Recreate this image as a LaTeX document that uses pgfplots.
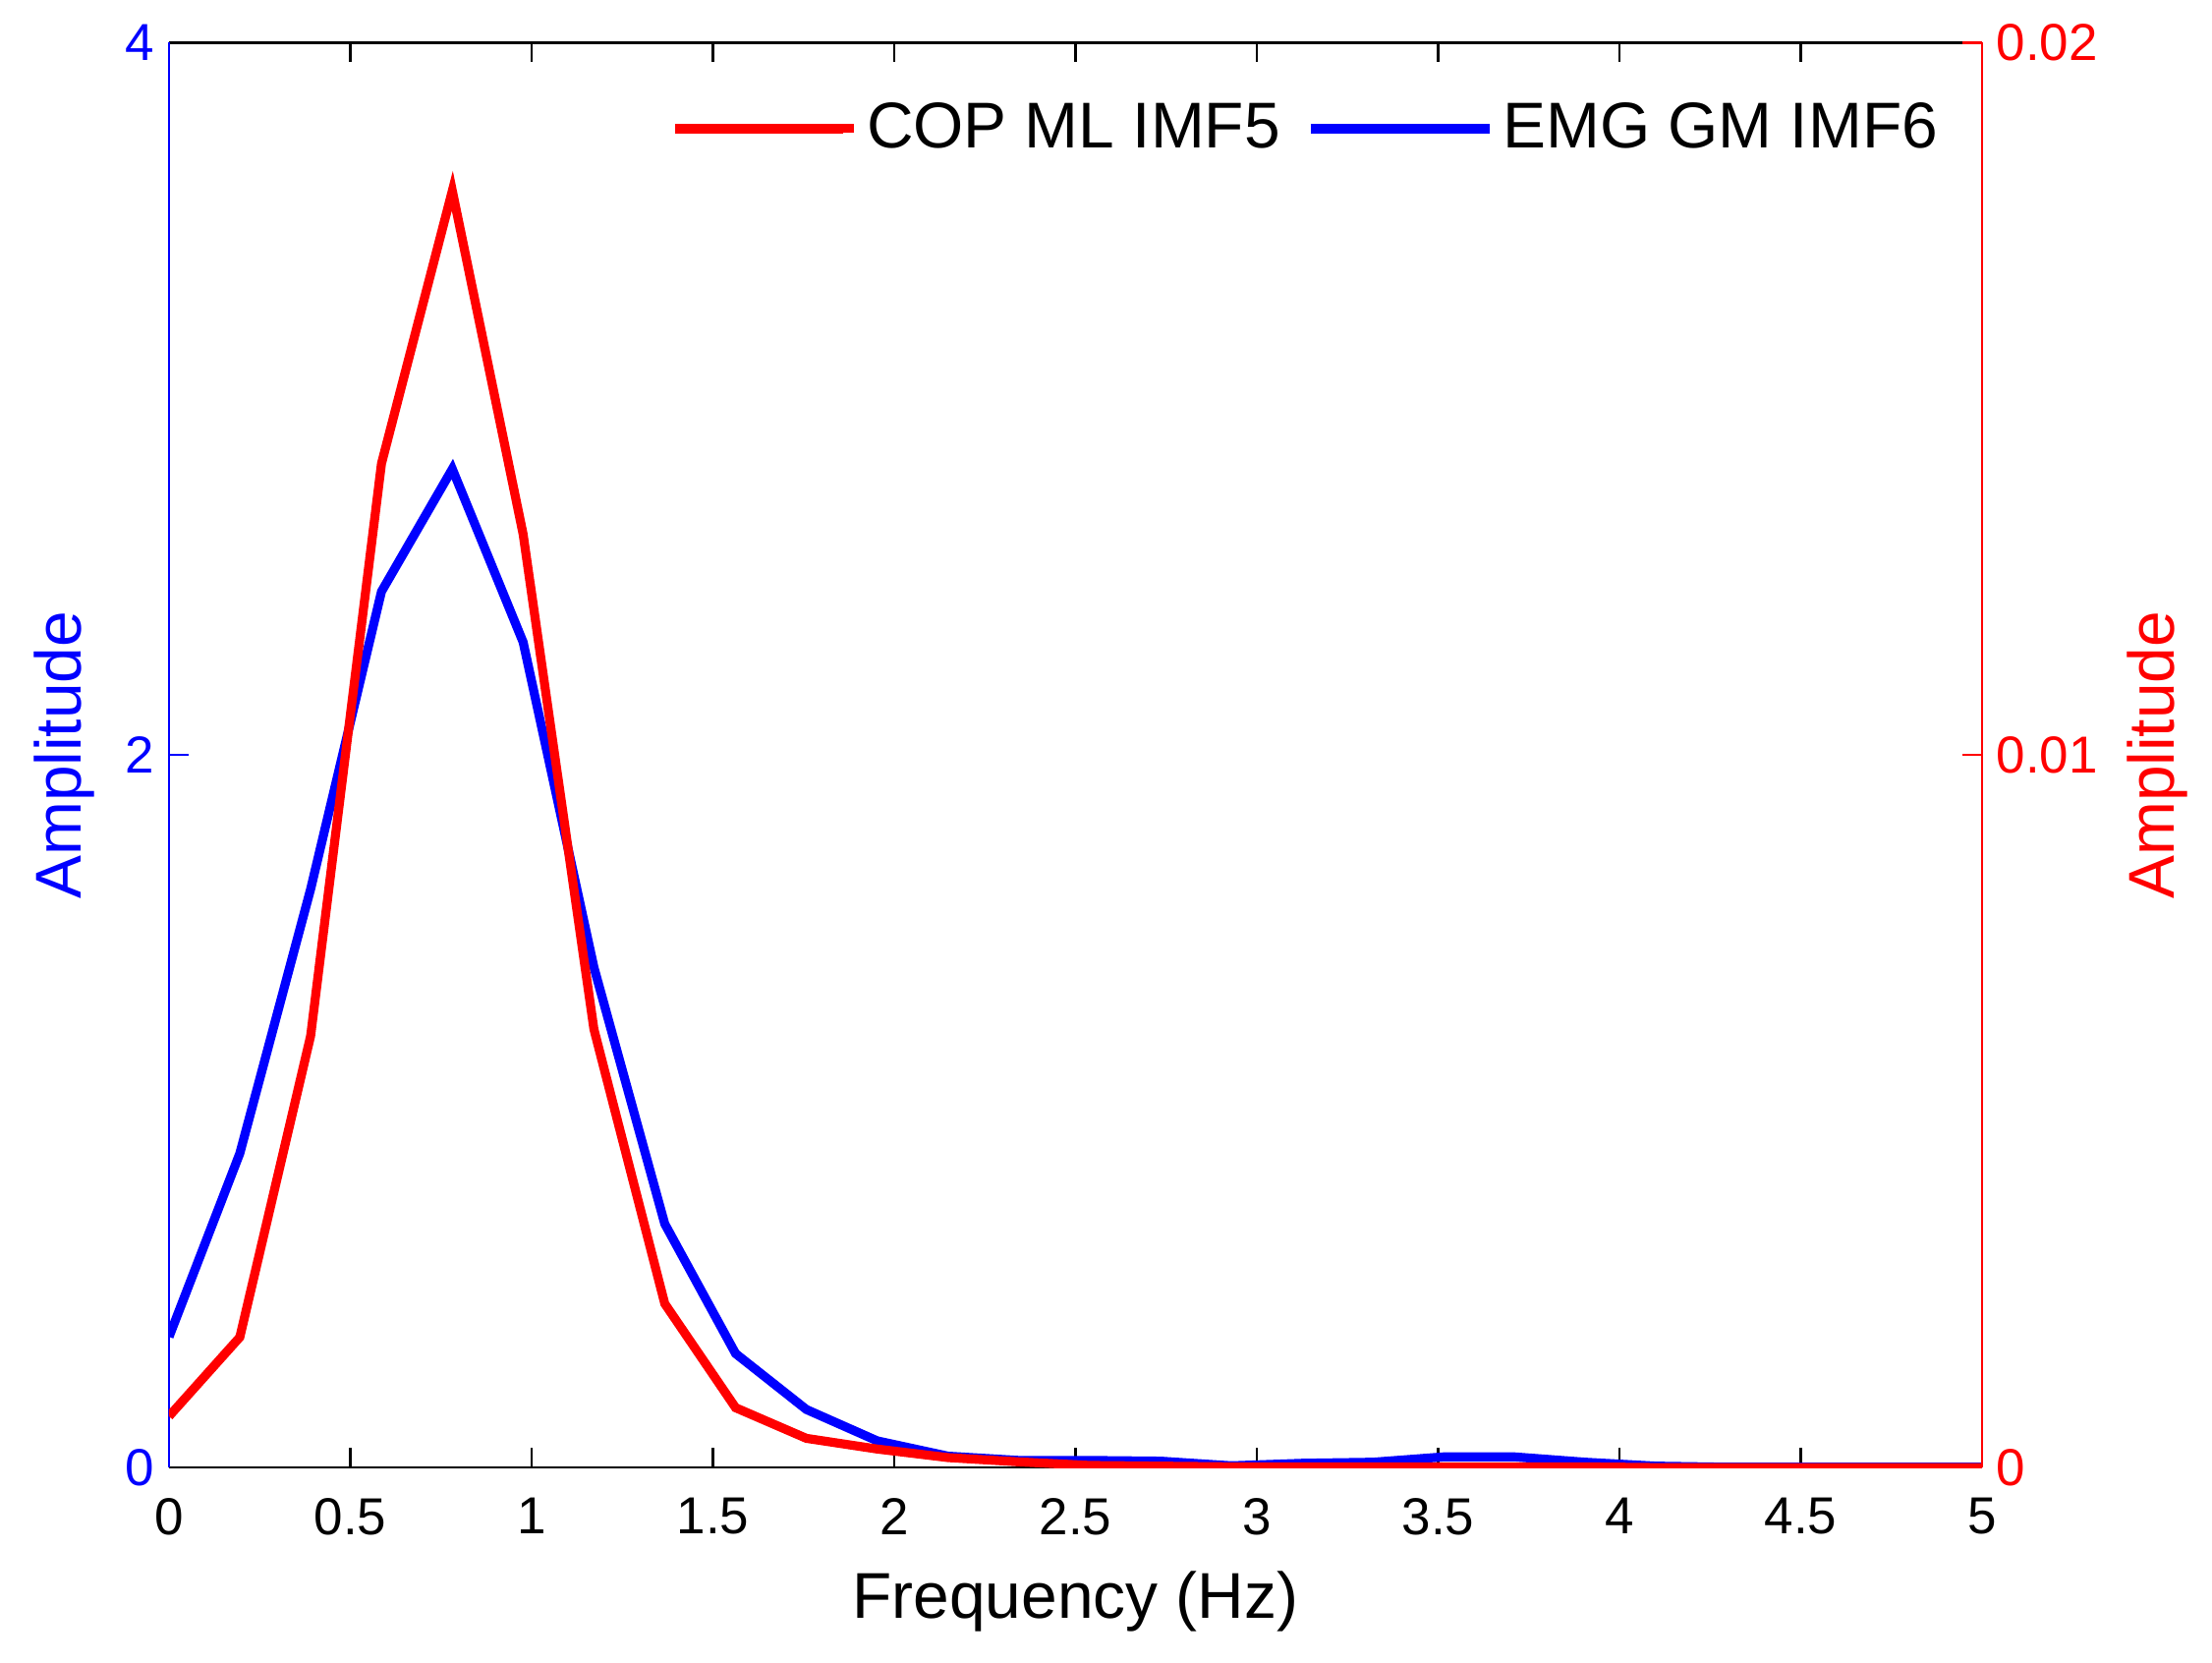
\documentclass[border=0pt]{standalone}
\usepackage{pgfplots}
\pgfplotsset{compat=1.18}
\usepackage{fontspec}
\setmainfont{Liberation Sans}
\definecolor{mblue}{RGB}{0,0,255}
\definecolor{mred}{RGB}{255,0,0}
\begin{document}
\begin{tikzpicture}
\path[use as bounding box] (-41.26pt,-47.5pt) rectangle (498.74pt,358.2pt);
\pgfplotsset{
  common/.style={
    scale only axis, width=442.6pt, height=347.8pt,
    xmin=0, xmax=5, clip=true,
    /pgf/number format/assume math mode=true,
    tick label style={font=\fontsize{12.7}{15}\selectfont},
    label style={font=\fontsize{15.8}{18}\selectfont},
    major tick length=4.8pt, tick align=inside,
    every tick/.style={line width=0.6pt},
    axis line style={line width=0.6pt},
  }
}
\begin{axis}[common,
  axis x line*=box, axis y line*=left,
  x axis line style={black}, y axis line style={mblue},
  ymin=0, ymax=4, ytick={0,2,4},
  xtick={0,0.5,...,5},
  xticklabels={0,0.5,1,1.5,2,2.5,3,3.5,4,4.5,5},
  y tick style={mblue}, x tick style={black},
  yticklabel style={mblue},
  xticklabel style={yshift=-4pt},
  xlabel={Frequency (Hz)},
  xlabel style={at={(axis description cs:0.5,-0.094)}, anchor=center},
  ylabel={Amplitude},
  ylabel style={mblue, at={(axis description cs:-0.058,0.5)}, anchor=center},
]
\addplot[mblue, line width=2.2pt] coordinates {
(0,0.367) (0.1953,0.882) (0.3906,1.624) (0.5859,2.459) (0.7813,2.803)
(0.9766,2.317) (1.1719,1.404) (1.3672,0.684) (1.5625,0.320) (1.7578,0.163)
(1.9531,0.075) (2.1484,0.032) (2.3438,0.020) (2.5391,0.020) (2.7344,0.018)
(2.9297,0.005) (3.125,0.012) (3.3203,0.015) (3.5156,0.030) (3.7109,0.030)
(3.9063,0.015) (4.1016,0.004) (4.2969,0.001) (4.4922,0.001) (4.6875,0.001)
(4.8828,0.001) (5.0781,0.001)
};
\end{axis}
\begin{axis}[common,
  axis x line=none, axis y line*=right,
  xtick=\empty, xticklabels={},
  y axis line style={mred},
  ymin=0, ymax=0.02, ytick={0,0.01,0.02},
  yticklabels={0,0.01,0.02},
  y tick style={mred},
  yticklabel style={mred},
  ylabel={Amplitude},
  ylabel style={mred, at={(axis description cs:1.097,0.5)}, anchor=center, rotate=0},
  legend columns=2,
  legend style={draw=none, fill=none, at={(axis description cs:1,1)}, anchor=north east,
    xshift=-5.6pt, yshift=-10.5pt,
    font=\fontsize{15.8}{18}\selectfont,
    /tikz/every even column/.append style={column sep=4.3pt}},
  legend image code/.code={\draw[#1, line width=2.3pt] (0pt,0pt) -- (41pt,0pt); \path (0pt,0pt) -- (43.7pt,0pt);},
]
\addplot[mred, line width=2.2pt] coordinates {
(0,0.00072) (0.1953,0.00183) (0.3906,0.00606) (0.5859,0.01409) (0.7813,0.01792)
(0.9766,0.01310) (1.1719,0.00615) (1.3672,0.00230) (1.5625,0.00084) (1.7578,0.00041)
(1.9531,0.00026) (2.1484,0.00014) (2.3438,0.00008) (2.5391,0.00003) (2.7344,0.00002)
(2.9297,0.00001) (3.125,0.00001) (3.3203,0.00001) (3.5156,0.00001) (3.7109,0.00001)
(3.9063,0.00001) (4.1016,0) (4.2969,0) (4.4922,0) (4.6875,0) (4.8828,0) (5.0781,0)
};
\addlegendentry{COP ML IMF5}
\addlegendimage{mblue, line width=2.3pt}
\addlegendentry{EMG GM IMF6}
\end{axis}
\end{tikzpicture}
\end{document}
